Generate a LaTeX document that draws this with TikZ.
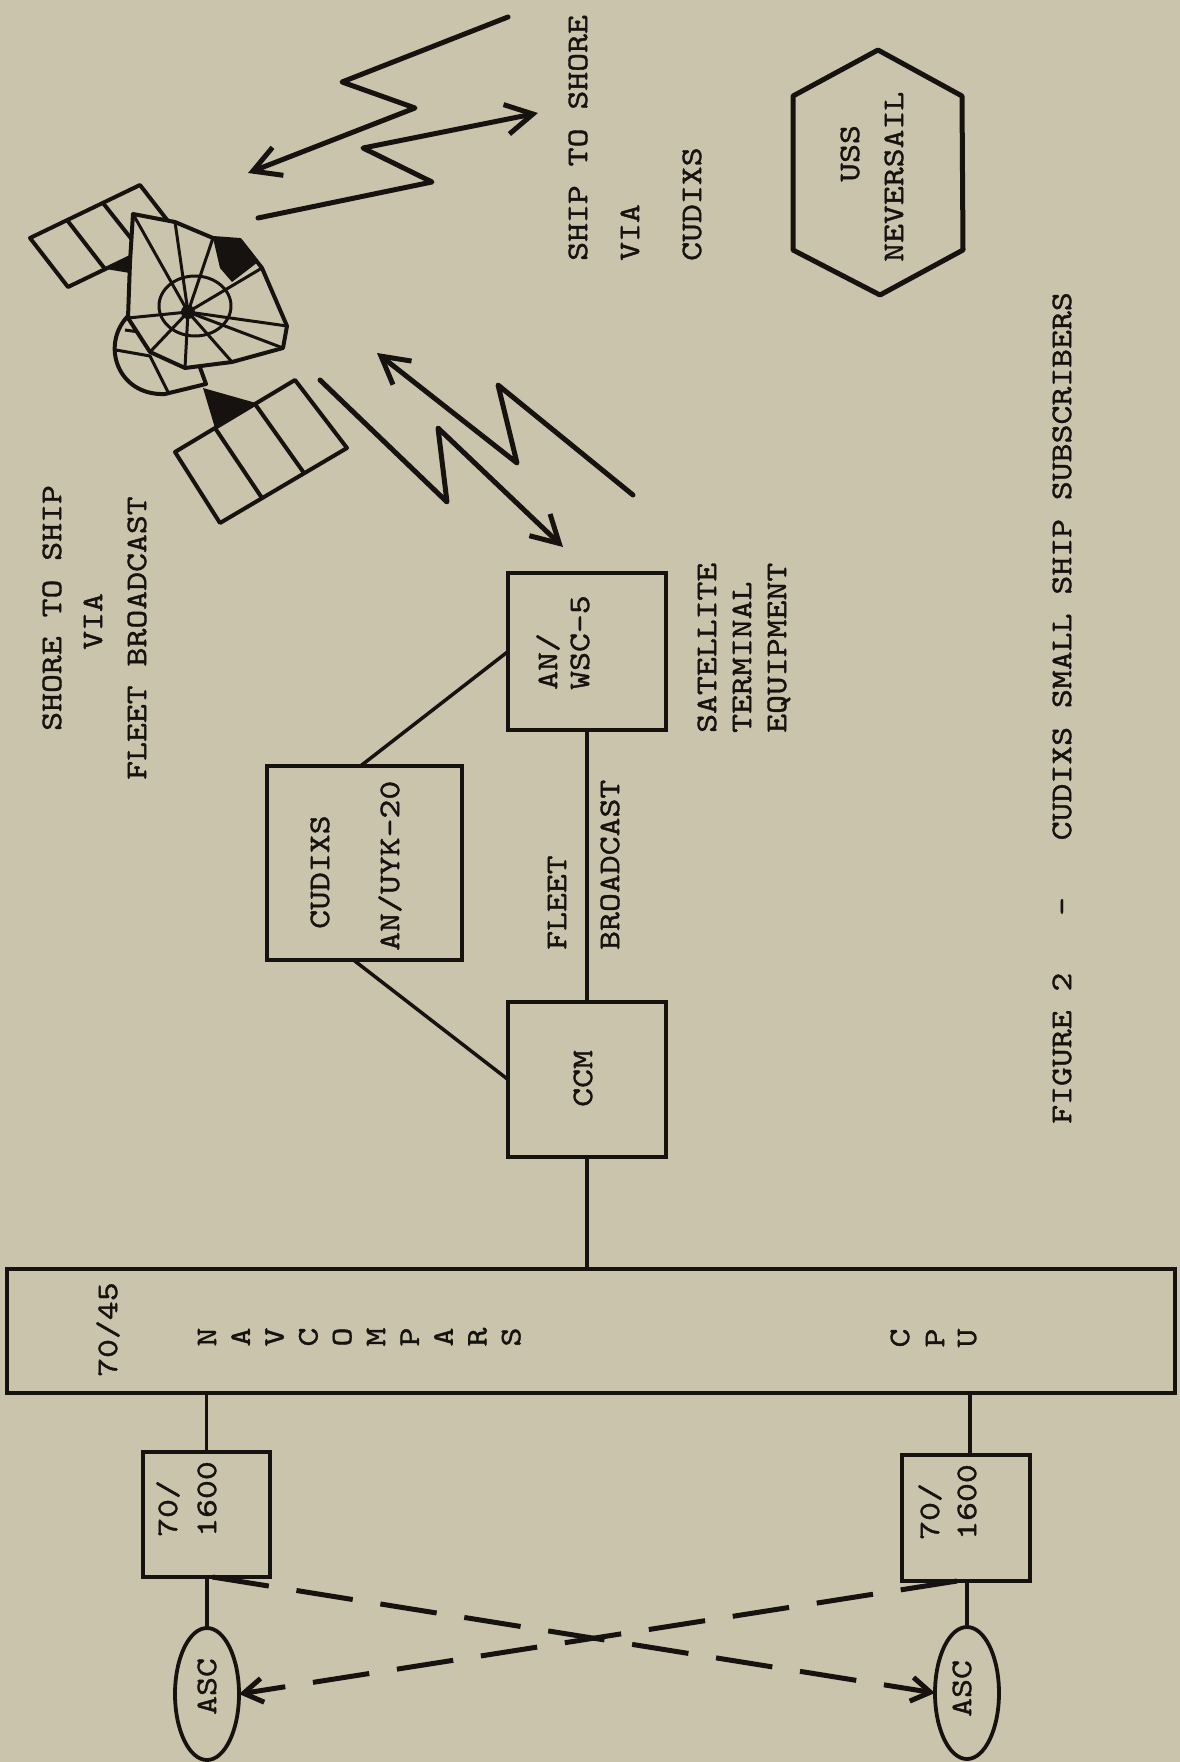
\documentclass[tikz,border=0pt]{standalone}
\usepackage{fontspec}
\newfontfamily\tw{lmmono10-regular.otf}[FakeStretch=1.2,FakeBold=1.2]
\usetikzlibrary{shapes.geometric,arrows.meta}
\definecolor{paper}{RGB}{202,196,172}
\definecolor{ink}{RGB}{22,18,16}
\begin{document}
\begin{tikzpicture}[x=1pt,y=-1pt,
  lbl/.style={font={\tw\fontsize{30}{35}\selectfont}, text=ink, rotate=90, inner sep=0pt, text height=18.3pt, text depth=0pt, anchor=west},
  boxst/.style={draw=ink, line width=4pt, rectangle, inner sep=0pt, outer sep=0pt},
  ovalst/.style={draw=ink, line width=3.8pt, ellipse, inner sep=0pt, outer sep=0pt, minimum width=64pt, minimum height=132pt},
  conn/.style={draw=ink, line width=3.5pt},
  bolt/.style={draw=ink, line width=5pt, line join=round, line cap=round, -{Straight Barb[length=27pt,width=30pt]}},
  dashl/.style={draw=ink, line width=5pt, dash pattern=on 57pt off 28pt, -{Straight Barb[length=19pt,width=24pt]}},
  sat/.style={draw=ink, line width=4pt, line join=round},
  thin/.style={draw=ink, line width=3pt, line join=round}
]
\fill[paper] (0,0) rectangle (1180,1762);
\useasboundingbox (0,0) rectangle (1180,1762);

% ---------- satellite ----------
\draw[sat, fill=paper] (30,238) -- (140,185) -- (178,234) -- (68,287) -- cycle;
\draw[sat] (67,220) -- (105,269) (103,203) -- (141,251);
\fill[ink] (106,269) -- (134,255) -- (130,273) -- cycle;
\draw[sat, fill=paper] (175,452) -- (295,380) -- (347,448) -- (220,523) -- cycle;
\draw[sat] (215,428) -- (262,498) (255,404) -- (304,473);
\fill[ink] (203,388) -- (256,403) -- (215,428) -- cycle;
\draw[sat, fill=paper] (128,316) .. controls (100,345) and (118,396) .. (165,394) -- (206,384) -- (190,340) -- cycle;
\draw[thin] (116,350) -- (150,356) -- (168,392) (125,330) -- (160,335);
\draw[sat, fill=paper] (133,214) -- (175,222) -- (213,238) -- (240,240) -- (262,268) -- (287,326) -- (283,348) -- (232,362) -- (185,368) -- (150,352) -- (128,318) -- (130,262) -- cycle;
\foreach \a/\b in {133/214,175/222,213/238,262/268,287/326,283/348,232/362,185/368,150/352,128/318}
  \draw[thin] (188,312) -- (\a,\b);
\draw[thin] (195,306) ellipse [x radius=36, y radius=30];
\fill[ink] (213,238) -- (240,240) -- (258,262) -- (232,282) -- (220,268) -- cycle;
\fill[ink] (188,312) circle [radius=7];

% ---------- radio links ----------
\draw[bolt] (508,17) -- (342,82) -- (415,108) -- (248,173);
\draw[bolt] (258,218) -- (432,182) -- (363,148) -- (538,113);
\draw[bolt] (633,495) -- (498,385) -- (517,463) -- (377,353);
\draw[bolt] (320,380) -- (447,502) -- (438,428) -- (563,547);

% ---------- ship hexagon ----------
\draw[sat, line width=5pt] (878,50) -- (962,96) -- (963,250) -- (880,295) -- (793,250) -- (793,96) -- cycle;

% ---------- boxes ----------
\node[boxst, minimum width=1168pt, minimum height=124pt] (big) at (591,1331) {};
\node[boxst, minimum width=195pt, minimum height=194pt] (cud) at (364.5,863) {};
\node[boxst, minimum width=158pt, minimum height=157pt] (wsc) at (587,651.5) {};
\node[boxst, minimum width=158pt, minimum height=155pt] (ccm) at (587,1079.5) {};
\node[boxst, minimum width=127pt, minimum height=125pt] (bl) at (206.5,1514.5) {};
\node[boxst, minimum width=128pt, minimum height=126pt] (br) at (966,1518) {};
\node[ovalst] (ascl) at (207,1694) {};
\node[ovalst] (ascr) at (967,1693) {};

% ---------- connectors ----------
\draw[conn] (bl.north) -- (bl.north |- big.south);
\draw[conn] ([xshift=4pt]br.north) -- ([xshift=4pt]br.north |- big.south);
\draw[conn] (ascl.north) -- (ascl.north |- bl.south);
\draw[conn] (ascr.north) -- (ascr.north |- br.south);
\draw[conn] (ccm.south) -- (ccm.south |- big.north);
\draw[conn] (wsc.south) -- (ccm.north);
\draw[conn] ([xshift=-11pt]cud.south) -- (ccm.west);
\draw[conn] ([xshift=-4pt]cud.north) -- (wsc.west);
\draw[dashl] ([xshift=6pt]bl.south) -- (ascr.west);
\draw[dashl] ([xshift=-9pt]br.south) -- (ascl.east);

% ---------- labels ----------
\node[lbl] (t1a) at (52,731) {SHORE TO SHIP};
\node[lbl] (t1b) at (93,650) {VIA};
\node[lbl] (t1c) at (137,780) {FLEET BROADCAST};
\node[lbl] (t2a) at (578,261) {SHIP TO SHORE};
\node[lbl] (t2b) at (630,261) {VIA};
\node[lbl] (t2c) at (692,261) {CUDIXS};
\node[lbl] (uss) at (850,182) {USS};
\node[lbl] (nev) at (894,262) {NEVERSAIL};
\node[lbl] (fl1) at (557,950) {FLEET};
\node[lbl] (fl2) at (610,950) {BROADCAST};
\node[lbl] (cu1) at (320,929) {CUDIXS};
\node[lbl] (cu2) at (390,951) {AN/UYK-20};
\node[lbl] (ws1) at (548,690) {AN/};
\node[lbl] (ws2) at (580,690) {WSC-5};
\node[lbl] (st1) at (707,733) {SATELLITE};
\node[lbl] (st2) at (742,733) {TERMINAL};
\node[lbl] (st3) at (777,733) {EQUIPMENT};
\node[lbl] (ccmt) at (583,1107) {CCM};
\node[lbl] (bigt) at (108,1377) {70/45};
\foreach \ch [count=\i from 0] in {N,A,V,C,O,M,P,A,R,S}
  \node[lbl, anchor=center] (nav\i) at (207+33.8*\i,1337) {\ch};
\foreach \ch/\x [count=\i] in {C/900,P/935,U/967}
  \node[lbl, anchor=center] (cpu\i) at (\x,1338) {\ch};
\node[lbl] (bl1) at (168,1537) {70/};
\node[lbl] (bl2) at (207,1537) {1600};
\node[lbl] (br1) at (930,1540) {70/};
\node[lbl] (br2) at (967,1540) {1600};
\node[lbl] (al) at (207,1715) {ASC};
\node[lbl] (ar) at (962,1717) {ASC};
\node[lbl] (cap) at (1062,1124) {FIGURE~2~~~-~~~CUDIXS SMALL SHIP SUBSCRIBERS};
\end{tikzpicture}
\end{document}
